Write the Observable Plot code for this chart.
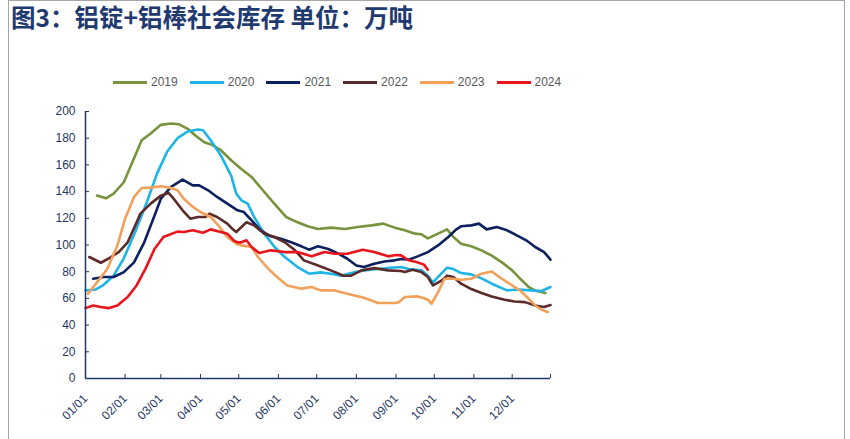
<!DOCTYPE html>
<html><head><meta charset="utf-8">
<script src="https://cdn.jsdelivr.net/npm/d3@7"></script>
<script src="https://cdn.jsdelivr.net/npm/@observablehq/plot@0.6"></script>
<style>
body{margin:0;background:#fff;}
#wrap{position:relative;width:850px;height:439px;overflow:hidden;font-family:"Liberation Sans",Arial,sans-serif;}
#box{position:absolute;left:8px;top:0;width:837px;height:460px;border:1px solid #a6a6a6;box-sizing:border-box;}
#title{position:absolute;left:11px;top:1px;font-family:"Noto Sans CJK SC",sans-serif;font-weight:700;font-size:24.5px;color:#1f3a70;line-height:32px;white-space:nowrap;}
#legend{position:absolute;left:113px;top:75px;display:flex;align-items:center;font-size:12px;color:#595959;}
.item{display:flex;align-items:center;margin-right:12px;}
.sw{width:34px;height:3px;margin-right:4px;}
#chart{position:absolute;left:0;top:0;}
</style></head>
<body><div id="wrap"><div id="box"></div><div id="title">图3：铝锭+铝棒社会库存 单位：万吨</div><div id="legend"></div><div id="chart"></div></div>
<script>
const years = ["2019","2020","2021","2022","2023","2024"];
const colors = ["#77933c","#1eb4e8","#0c1f5e","#5b2b29","#f2a05a","#e8151c"];
const monthStartDays = [0,31,59,90,120,151,181,212,243,273,304,334,364];
const tickLabels = ["01/01","02/01","03/01","04/01","05/01","06/01","07/01","08/01","09/01","10/01","11/01","12/01",""];
const yTicks = [0,20,40,60,80,100,120,140,160,180,200];

// [day of year, 万吨]
const s2019 = [[9,137],[16,135],[22,138.5],[30,147],[38,165],[44,178.5],[51,183.5],[59,190],[67,191],[73,190.5],[80,187],[86,182],[93,177],[99,175],[106,171],[114,163.5],[122,157],[130,151],[140,139.7],[150,128.5],[157,121],[166,117],[174,114],[182,112],[192,113],[203,112],[213,113.5],[224,114.7],[233,116],[242,113],[250,111],[258,108.5],[263,108],[268,105],[276,108.5],[283,111.7],[288,106],[294,101],[302,99],[310,96],[318,92],[326,87],[334,81],[340,75],[347,68.5],[353,65.5],[360,64]];
const s2020 = [[0,66],[8,66.7],[14,70],[22,77],[30,90],[39,110],[48,132],[56,153.5],[64,170],[72,180],[80,185],[88,186.5],[92,186],[98,178.5],[106,167],[114,152],[118,138.5],[122,133.5],[127,131],[132,121],[140,108.5],[148,98.5],[156,91],[166,83.5],[175,78.5],[184,79.5],[192,78.5],[200,77],[208,79],[218,81],[229,82],[239,83],[247,83.5],[253,82],[263,81],[268,77],[272,72],[277,77],[283,83],[288,82],[294,79],[302,78],[310,75],[318,71],[330,66],[339,66.7],[349,66],[357,65.5],[364,68.5]];
const s2021 = [[6,74.7],[14,76],[22,76],[30,79.7],[38,87],[46,102],[54,122],[59,134.7],[67,143.5],[76,149],[84,144.7],[89,144.7],[96,141],[103,136],[111,131],[119,126],[124,124.7],[130,118.5],[137,111],[145,106.5],[153,104.7],[161,102],[169,99],[175,96.5],[182,99],[190,97],[198,93.5],[205,89.7],[212,84.7],[218,83.5],[226,86],[234,87.7],[242,88.5],[247,89.5],[253,89],[260,91.5],[268,94.7],[276,99.7],[284,106],[290,111.5],[294,114],[302,114.7],[308,116],[314,111.7],[322,113.5],[330,111],[338,107],[345,103.5],[352,98.5],[359,94.7],[364,89]];
const s2022 = [[3,91],[12,86.7],[20,91],[26,94.7],[33,102],[39,114.7],[43,123.5],[51,131],[59,137],[65,139],[69,134.7],[76,126],[82,119.7],[88,121],[94,121],[97,123.5],[103,121],[111,116],[114,113],[118,109.7],[126,117],[132,114.7],[140,108.5],[148,106],[156,102],[164,96],[171,88.5],[182,84.7],[192,81],[202,77],[208,77],[216,81],[226,82.7],[237,81],[247,80.5],[250,79.7],[256,81.5],[263,79.7],[268,76],[272,69.7],[279,73.5],[283,77],[288,76],[294,71],[302,67],[310,64],[318,61.5],[328,59],[336,57.7],[344,57.2],[352,54.7],[359,53.5],[364,55]];
const s2023 = [[2,63.5],[9,72],[17,82],[25,99.7],[31,119.7],[38,136],[44,142.7],[51,143],[59,144],[67,142.7],[72,141],[77,134.7],[84,128.5],[90,124.7],[98,121],[105,113.5],[111,106],[118,101],[122,99.7],[130,98.5],[135,91],[143,82.3],[150,76],[158,69.7],[169,67.3],[177,68.5],[184,66],[195,66],[205,63.5],[218,60.5],[229,56.5],[242,56.5],[245,57],[250,61],[260,61.5],[264,60.5],[268,59],[271,56],[276,64.7],[281,74.7],[288,74.7],[294,74],[302,74.7],[310,78.5],[318,80.2],[324,76],[332,71],[340,66],[347,59.7],[352,54.7],[357,51.5],[362,49.7]];
const s2024 = [[0,52.7],[6,54.7],[12,53.5],[18,52.7],[25,54.7],[33,61],[40,69.7],[47,82.3],[54,97],[61,106],[72,110],[77,109.7],[84,111],[92,109.2],[98,111.7],[105,110],[111,108.5],[116,103.5],[119,102],[122,102],[126,103.5],[130,98.5],[136,94],[145,96],[156,94.7],[166,94.7],[177,91.5],[187,94.7],[195,93.5],[205,93.5],[217,96.5],[226,94.7],[237,91.5],[243,92.5],[247,92.2],[253,88.5],[259,87.2],[265,85.3],[268,81.5]];

const series = [s2019,s2020,s2021,s2022,s2023,s2024];
const rows = [];
series.forEach((s,i)=>s.forEach(([d,v])=>rows.push({year:years[i],day:d,value:v})));

const navy = "#1f3864";
const labelMap = new Map(monthStartDays.map((d,i)=>[d,tickLabels[i]]));

const chart = Plot.plot({
  width: 850, height: 439,
  marginLeft: 85, marginRight: 300, marginTop: 111, marginBottom: 61,
  style: {fontFamily: "'Liberation Sans', Arial, sans-serif", fontSize: "12px", color: navy, background: "transparent"},
  x: {domain: [0, 364]},
  y: {domain: [0, 200]},
  color: {domain: years, range: colors},
  marks: [
    Plot.axisY({ticks: yTicks, tickSize: -4, tickPadding: 14, label: null, color: navy, fontSize: 12}),
    Plot.axisX({ticks: monthStartDays, tickFormat: d => labelMap.get(d), tickSize: -4, tickPadding: 22, tickRotate: -45, label: null, color: navy, fontSize: 12}),
    Plot.line(rows, {x: "day", y: "value", z: "year", stroke: "year", strokeWidth: 2.6, curve: "linear"}),
    Plot.ruleY([0], {stroke: navy, strokeWidth: 1.5}),
    Plot.ruleX([0], {stroke: navy, strokeWidth: 1.5})
  ]
});
document.getElementById("chart").appendChild(chart);

const legend = document.getElementById("legend");
years.forEach((y,i)=>{
  const it = document.createElement("div"); it.className="item";
  const sw = document.createElement("div"); sw.className="sw"; sw.style.background = colors[i];
  const t = document.createElement("span"); t.textContent = y;
  it.appendChild(sw); it.appendChild(t); legend.appendChild(it);
});
</script></body></html>
